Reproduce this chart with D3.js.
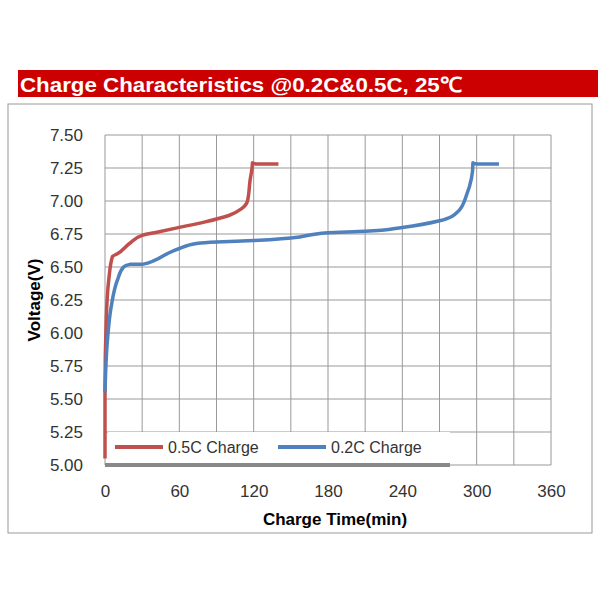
<!DOCTYPE html><html><head><meta charset="utf-8"><script src="https://cdn.jsdelivr.net/npm/d3@7"></script>
<style>body{margin:0;background:#fff}</style></head><body><svg id="c" width="600" height="600"></svg>
<script>
const xTicks=[0,60,120,180,240,300,360];
const yTicks=[5.00,5.25,5.50,5.75,6.00,6.25,6.50,6.75,7.00,7.25,7.50];
const t05=[0,0,1,3,6,10,20,30,40,60,80,100,110,115,117,119,122,140];
const v05=[5.05,5.55,6.1,6.4,6.58,6.6,6.68,6.74,6.76,6.8,6.84,6.89,6.94,7.0,7.15,7.29,7.28,7.28];
const t02=[0,2,5,10,15,20,30,40,50,60,75,90,120,150,180,210,240,270,285,292,297,300,318];
const v02=[5.55,5.95,6.2,6.4,6.5,6.52,6.52,6.55,6.6,6.64,6.68,6.69,6.7,6.72,6.76,6.77,6.8,6.85,6.92,7.05,7.29,7.28,7.28];
const seriesNames=["0.5C Charge","0.2C Charge"];
const colors=["#c0504d","#4f81bd"];
const svg=d3.select("#c");
svg.append("rect").attr("x",18).attr("y",70).attr("width",580).attr("height",27).attr("fill","#cc0000");
svg.append("text").attr("x",20).attr("y",92).attr("fill","#fff").attr("font-family","Liberation Sans, Arial").attr("font-weight","bold").attr("font-size",21).attr("textLength",442).attr("lengthAdjust","spacingAndGlyphs").text("Charge  Characteristics @0.2C&0.5C, 25℃");
svg.append("rect").attr("x",8).attr("y",104).attr("width",584).attr("height",429).attr("fill","#fff").attr("stroke","#999");
const x=d3.scaleLinear().domain([0,360]).range([105,551]);
const y=d3.scaleLinear().domain([5,7.5]).range([465,135]);
const g=svg.append("g");
g.selectAll(".vg").data(d3.range(0,361,30)).join("line").attr("x1",d=>x(d)).attr("x2",d=>x(d)).attr("y1",y(5)).attr("y2",y(7.5)).attr("stroke","#999").attr("stroke-width",1);
g.selectAll(".hg").data(yTicks).join("line").attr("x1",x(0)).attr("x2",x(360)).attr("y1",d=>y(d)).attr("y2",d=>y(d)).attr("stroke","#999").attr("stroke-width",1);
const ax=svg.append("g").attr("transform",`translate(0,${y(5)})`).call(d3.axisBottom(x).tickValues(xTicks).tickSize(0).tickPadding(20));
ax.select(".domain").remove();
ax.selectAll("text").attr("font-family","Liberation Sans, Arial").attr("font-size",17).attr("fill","#333");
const ay=svg.append("g").attr("transform",`translate(${x(0)},0)`).call(d3.axisLeft(y).tickValues(yTicks).tickFormat(d3.format(".2f")).tickSize(0).tickPadding(22));
ay.select(".domain").remove();
ay.selectAll("text").attr("font-family","Liberation Sans, Arial").attr("font-size",17).attr("fill","#333");
svg.append("text").attr("x",335).attr("y",525).attr("text-anchor","middle").attr("font-family","Liberation Sans, Arial").attr("font-weight","bold").attr("font-size",17).text("Charge Time(min)");
svg.append("text").attr("transform","translate(40,300) rotate(-90)").attr("text-anchor","middle").attr("font-family","Liberation Sans, Arial").attr("font-weight","bold").attr("font-size",17).text("Voltage(V)");
svg.append("rect").attr("x",108).attr("y",432).attr("width",342).attr("height",31).attr("fill","#fff");
svg.append("line").attr("x1",x(0)).attr("x2",450).attr("y1",465).attr("y2",465).attr("stroke","#888").attr("stroke-width",4);
[[t05,v05],[t02,v02]].forEach((s,i)=>{
 svg.append("path").attr("d",d3.line().x(d=>x(d[0])).y(d=>y(d[1])).curve(d3.curveMonotoneY)(s[0].map((t,j)=>[t,s[1][j]]))).attr("fill","none").attr("stroke",colors[i]).attr("stroke-width",3.5).attr("stroke-linejoin","round");
});
seriesNames.forEach((n,i)=>{
 const lx=115+i*163;
 svg.append("line").attr("x1",lx).attr("x2",lx+48).attr("y1",447).attr("y2",447).attr("stroke",colors[i]).attr("stroke-width",4);
 svg.append("text").attr("x",lx+53).attr("y",453).attr("font-family","Liberation Sans, Arial").attr("font-size",16).attr("fill","#333").text(n);
});
</script></body></html>
